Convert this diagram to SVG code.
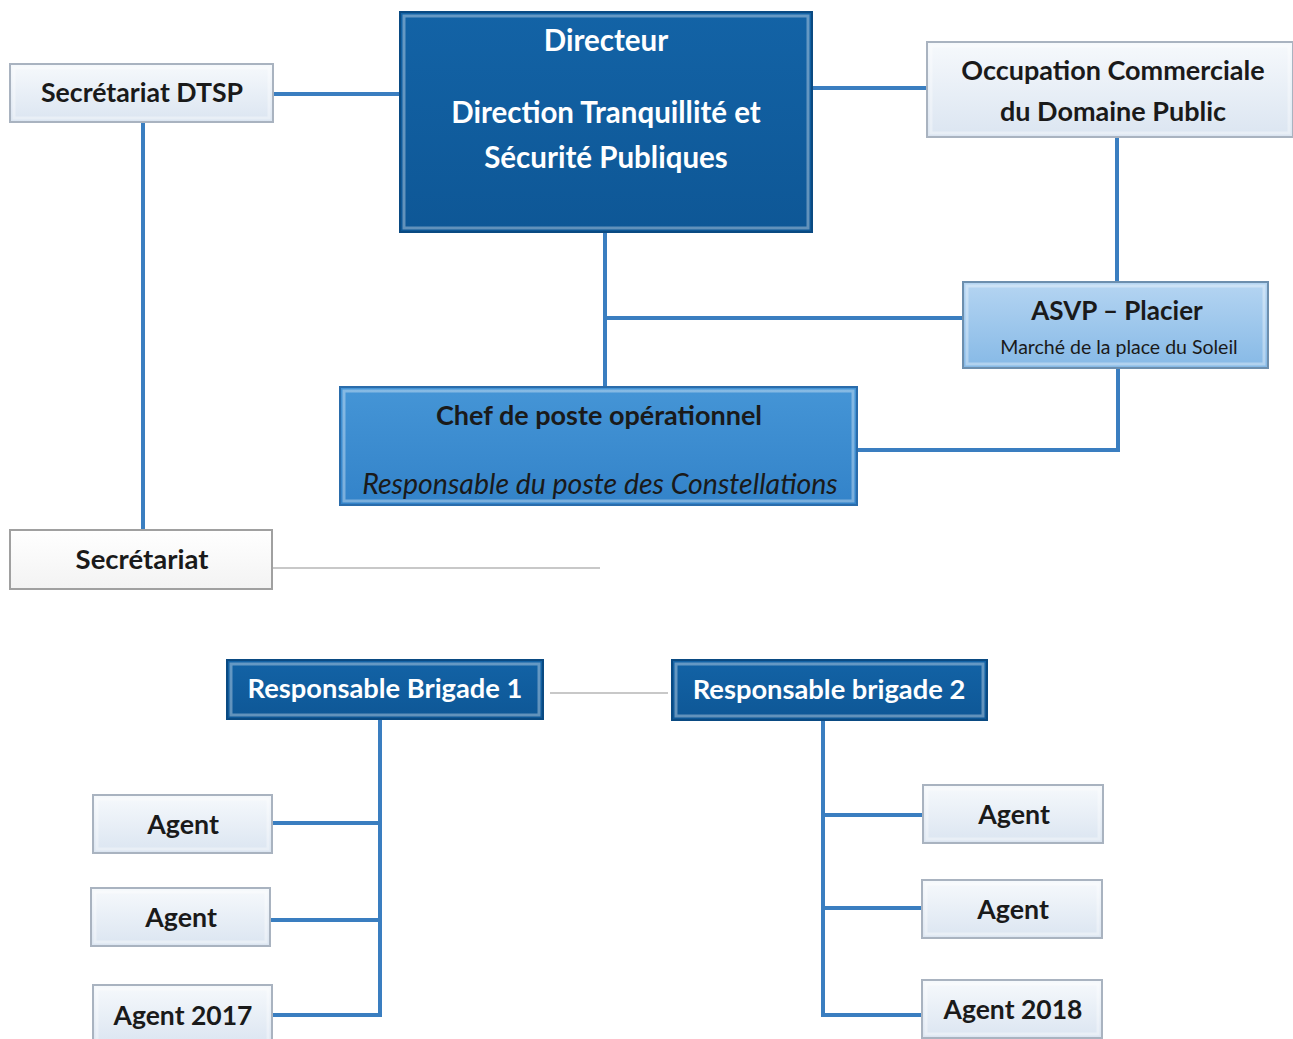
<svg xmlns="http://www.w3.org/2000/svg" width="1293" height="1039" viewBox="0 0 1293 1039">
<defs>
<linearGradient id="gLight" x1="0" y1="0" x2="0" y2="1">
<stop offset="0" stop-color="#f6f9fc"/><stop offset="1" stop-color="#dbe5f1"/>
</linearGradient>
<linearGradient id="gWhite" x1="0" y1="0" x2="0" y2="1">
<stop offset="0" stop-color="#ffffff"/><stop offset="1" stop-color="#f3f3f3"/>
</linearGradient>
<linearGradient id="gAsvp" x1="0" y1="0" x2="0" y2="1">
<stop offset="0" stop-color="#b5d5f2"/><stop offset="1" stop-color="#86b9e6"/>
</linearGradient>
<linearGradient id="gChef" x1="0" y1="0" x2="0" y2="1">
<stop offset="0" stop-color="#4595d6"/><stop offset="1" stop-color="#3383c9"/>
</linearGradient>
<linearGradient id="gDark" x1="0" y1="0" x2="0" y2="1">
<stop offset="0" stop-color="#1363a6"/><stop offset="1" stop-color="#0e5796"/>
</linearGradient>
</defs>
<style>
.t{font-family:Lato,"Open Sans","Liberation Sans",sans-serif;font-weight:bold;text-anchor:middle}
.w{fill:#ffffff}
.k{fill:#1a1a1a}
.n{font-weight:normal}
.i{font-weight:normal;font-style:italic}
.ln{stroke:#3a7ec0;stroke-width:4;fill:none}
.faint{stroke:#c8c8c8;stroke-width:2;fill:none}
.light{fill:url(#gLight);stroke:#a9b3c0;stroke-width:2}
.white{fill:url(#gWhite);stroke:#a0a0a0;stroke-width:2}
.dark{fill:url(#gDark);stroke:#0a4a82;stroke-width:2}
.asvp{fill:url(#gAsvp);stroke:#6d8fae;stroke-width:2}
.chef{fill:url(#gChef);stroke:#2a6cab;stroke-width:2}
.bev{fill:none;stroke:#ffffff;stroke-opacity:0.35;stroke-width:3}
</style>
<rect width="1293" height="1039" fill="#ffffff"/>
<g id="connectors">
<line class="ln" x1="273" y1="94" x2="400" y2="94"/>
<line class="ln" x1="143" y1="122" x2="143" y2="529"/>
<line class="ln" x1="812" y1="88" x2="927" y2="88"/>
<line class="ln" x1="1117" y1="137" x2="1117" y2="282"/>
<line class="ln" x1="605" y1="232" x2="605" y2="387"/>
<line class="ln" x1="605" y1="318" x2="963" y2="318"/>
<polyline class="ln" points="1118,368 1118,450 857,450"/>
<line class="faint" x1="273" y1="568" x2="600" y2="568"/>
<line class="faint" x1="550" y1="693" x2="668" y2="693"/>
<polyline class="ln" points="380,719 380,1015 272,1015"/>
<line class="ln" x1="272" y1="823" x2="380" y2="823"/>
<line class="ln" x1="270" y1="920" x2="380" y2="920"/>
<polyline class="ln" points="823,720 823,1015 922,1015"/>
<line class="ln" x1="823" y1="815" x2="923" y2="815"/>
<line class="ln" x1="823" y1="908" x2="922" y2="908"/>
</g>
<g id="secretariat-dtsp">
<rect class="light" x="10" y="64" width="263" height="58"/>
<rect class="bev" x="14" y="68" width="255" height="50"/>
<text class="t k" x="142" y="102" font-size="26.7">Secrétariat DTSP</text>
</g>
<g id="directeur">
<rect class="dark" x="400" y="12" width="412" height="220"/>
<rect class="bev" x="404" y="16" width="404" height="212"/>
<text class="t w" x="606" y="51" font-size="29.5">Directeur</text>
<text class="t w" x="606" y="123" font-size="29.5">Direction Tranquillité et</text>
<text class="t w" x="606" y="168" font-size="29.5">Sécurité Publiques</text>
</g>
<g id="occupation">
<rect class="light" x="927" y="42" width="366" height="95"/>
<rect class="bev" x="931" y="46" width="358" height="87"/>
<text class="t k" x="1113" y="80" font-size="27">Occupation Commerciale</text>
<text class="t k" x="1113" y="121" font-size="27">du Domaine Public</text>
</g>
<g id="asvp">
<rect class="asvp" x="963" y="282" width="305" height="86"/>
<rect class="bev" x="967" y="286" width="297" height="78"/>
<text class="t k" x="1117" y="320" font-size="26">ASVP – Placier</text>
<text class="t k n" x="1119" y="354" font-size="19.5">Marché de la place du Soleil</text>
</g>
<g id="chef">
<rect class="chef" x="340" y="387" width="517" height="118"/>
<rect class="bev" x="344" y="391" width="509" height="110"/>
<text class="t k" x="599" y="425" font-size="27">Chef de poste opérationnel</text>
<text class="t k i" x="600" y="494" font-size="28.5">Responsable du poste des Constellations</text>
</g>
<g id="secretariat">
<rect class="white" x="10" y="530" width="262" height="59"/>
<text class="t k" x="142" y="569" font-size="27.5">Secrétariat</text>
</g>
<g id="brigade1">
<rect class="dark" x="227" y="660" width="316" height="59"/>
<rect class="bev" x="231" y="664" width="308" height="51"/>
<text class="t w" x="385" y="698" font-size="27.3">Responsable Brigade 1</text>
</g>
<g id="brigade2">
<rect class="dark" x="672" y="660" width="315" height="60"/>
<rect class="bev" x="676" y="664" width="307" height="52"/>
<text class="t w" x="829" y="699" font-size="27.3">Responsable brigade 2</text>
</g>
<g id="agent-l1">
<rect class="light" x="93" y="795" width="179" height="58"/>
<rect class="bev" x="97" y="799" width="171" height="50"/>
<text class="t k" x="183" y="834" font-size="26.8">Agent</text>
</g>
<g id="agent-l2">
<rect class="light" x="91" y="888" width="179" height="58"/>
<rect class="bev" x="95" y="892" width="171" height="50"/>
<text class="t k" x="181" y="927" font-size="26.8">Agent</text>
</g>
<g id="agent-2017">
<rect class="light" x="93" y="985" width="179" height="60"/>
<rect class="bev" x="97" y="989" width="171" height="52"/>
<text class="t k" x="183" y="1025" font-size="26.5">Agent 2017</text>
</g>
<g id="agent-r1">
<rect class="light" x="923" y="785" width="180" height="58"/>
<rect class="bev" x="927" y="789" width="172" height="50"/>
<text class="t k" x="1014" y="824" font-size="26.8">Agent</text>
</g>
<g id="agent-r2">
<rect class="light" x="922" y="880" width="180" height="58"/>
<rect class="bev" x="926" y="884" width="172" height="50"/>
<text class="t k" x="1013" y="919" font-size="26.8">Agent</text>
</g>
<g id="agent-2018">
<rect class="light" x="922" y="980" width="180" height="58"/>
<rect class="bev" x="926" y="984" width="172" height="50"/>
<text class="t k" x="1013" y="1019" font-size="26.5">Agent 2018</text>
</g>
</svg>
